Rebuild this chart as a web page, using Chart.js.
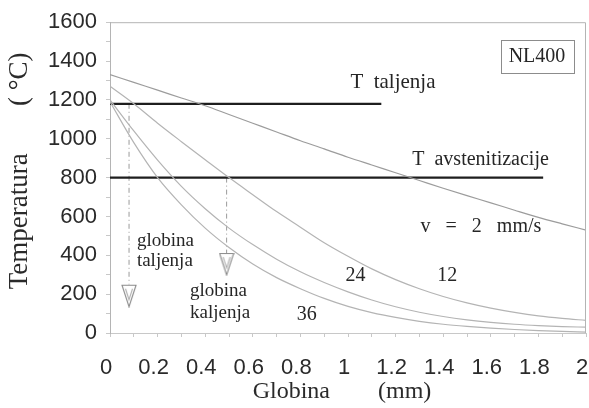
<!DOCTYPE html>
<html>
<head>
<meta charset="utf-8">
<script src="https://cdn.jsdelivr.net/npm/chart.js@4/dist/chart.umd.min.js"></script>
<style>
  html, body { margin: 0; padding: 0; background: #fff; }
  #wrap { width: 589px; height: 408px; position: relative; }
</style>
</head>
<body>
<div id="wrap"><canvas id="tempChart"></canvas></div>
<script>
// depth below surface (mm)
const depth = [0, 0.1, 0.2, 0.3, 0.4, 0.5, 0.6, 0.7, 0.8, 0.9, 1.0,
               1.1, 1.2, 1.3, 1.4, 1.5, 1.6, 1.7, 1.8, 1.9, 2.0];

// peak temperature (°C) for each scanning speed (mm/s)
const tempV2  = [1330, 1290, 1250, 1210, 1170, 1125, 1080, 1035, 990, 948, 905,
                 865, 825, 785, 745, 707, 670, 632, 595, 562, 530];
const tempV12 = [1270, 1180, 1080, 985, 892, 800, 712, 625, 545, 465, 395,
                 330, 275, 228, 188, 155, 128, 106, 88, 75, 65];
const tempV24 = [1200, 1040, 890, 755, 640, 540, 455, 380, 315, 260, 212,
                 170, 135, 107, 85, 68, 55, 45, 38, 33, 30];
const tempV36 = [1190, 980, 800, 660, 540, 440, 355, 285, 228, 178, 137,
                 105, 80, 60, 45, 34, 25, 18, 12, 8, 5];

// reference temperatures: melting, austenitizing
const refTemps = [1180, 800];
const refEnds = [1.14, 1.82];

// depth markers: melting depth, hardening depth
const markDepth = [0.08, 0.49];
const markFrom = [1180, 800];
const markTo = [250, 410];
const markTip = [192, 355];

const serif = '"Liberation Serif", "DejaVu Serif", serif';
const sans = '"Liberation Sans", Arial, sans-serif';

/**
 * Builds the tall open "down" triangle used at the end of the depth markers.
 */
function makeTriangle() {
    const c = document.createElement('canvas');
    c.width = 16;
    c.height = 24;
    const g = c.getContext('2d');
    g.strokeStyle = '#8a8a8a';
    g.lineWidth = 1.1;
    g.beginPath();
    g.moveTo(1, 1.5);
    g.lineTo(15, 1.5);
    g.lineTo(8, 23);
    g.closePath();
    g.stroke();
    g.strokeStyle = '#b0b0b0';
    g.beginPath();
    g.moveTo(4.5, 5);
    g.lineTo(8, 16);
    g.lineTo(11.5, 5);
    g.stroke();
    return c;
}
const triangle = makeTriangle();

function toPoints(ys) {
    return depth.map((x, i) => ({ x: x, y: ys[i] }));
}

function curve(ys, color) {
    return {
        data: toPoints(ys),
        borderColor: color,
        borderWidth: 1.2,
        pointRadius: 0,
        cubicInterpolationMode: 'monotone',
        fill: false
    };
}

function refLine(i) {
    return {
        data: [{ x: 0, y: refTemps[i] }, { x: refEnds[i], y: refTemps[i] }],
        borderColor: '#1e1e1e',
        borderWidth: 2.2,
        pointRadius: 0,
        fill: false
    };
}

function marker(i) {
    return {
        data: [
            { x: markDepth[i], y: markFrom[i] },
            { x: markDepth[i], y: markTo[i] },
            { x: markDepth[i], y: markTip[i] }
        ],
        borderColor: '#9a9a9a',
        borderWidth: 1,
        borderDash: [5, 3, 1, 3],
        segment: { borderColor: ctx => ctx.p1DataIndex === 2 ? 'rgba(0,0,0,0)' : '#9a9a9a' },
        pointRadius: [0, 0, 10],
        pointStyle: [false, false, triangle],
        fill: false
    };
}

// text annotations, placed in data coordinates
const notes = [
    { text: 'T  taljenja', x: 1.01, y: 1260, size: 21 },
    { text: 'T  avstenitizacije', x: 1.27, y: 864, size: 20 },
    { text: 'v   =   2   mm/s', x: 1.305, y: 520, size: 20 },
    { text: 'globina', x: 0.113, y: 448, size: 19 },
    { text: 'taljenja', x: 0.113, y: 345, size: 19 },
    { text: 'globina', x: 0.336, y: 190, size: 19 },
    { text: 'kaljenja', x: 0.336, y: 77, size: 19 },
    { text: '24', x: 0.99, y: 268, size: 20 },
    { text: '12', x: 1.375, y: 268, size: 20 },
    { text: '36', x: 0.785, y: 67, size: 20 }
];

const annotatePlugin = {
    id: 'annotate',
    afterDatasetsDraw(chart) {
        const { ctx, chartArea, scales } = chart;
        ctx.save();
        // frame on top and right
        ctx.strokeStyle = '#b4b4b4';
        ctx.lineWidth = 1;
        ctx.beginPath();
        ctx.moveTo(chartArea.left, chartArea.top + 0.5);
        ctx.lineTo(chartArea.right - 0.5, chartArea.top + 0.5);
        ctx.lineTo(chartArea.right - 0.5, chartArea.bottom);
        ctx.stroke();

        ctx.fillStyle = '#262626';
        ctx.textAlign = 'left';
        ctx.textBaseline = 'alphabetic';
        notes.forEach(n => {
            ctx.font = n.size + 'px ' + serif;
            ctx.fillText(n.text, scales.x.getPixelForValue(n.x), scales.y.getPixelForValue(n.y));
        });

        // NL400 box
        ctx.font = '20px ' + serif;
        const cx = scales.x.getPixelForValue(1.794);
        const cy = scales.y.getPixelForValue(1425);
        const w = ctx.measureText('NL400').width;
        ctx.textAlign = 'center';
        ctx.textBaseline = 'middle';
        ctx.fillText('NL400', cx, cy + 1);
        ctx.strokeStyle = '#8c8c8c';
        ctx.strokeRect(Math.round(cx - w / 2 - 8) + 0.5, Math.round(cy - 16) + 0.5, Math.round(w + 16), 33);
        ctx.restore();
    }
};

new Chart(document.getElementById('tempChart'), {
    type: 'line',
    data: {
        datasets: [
            curve(tempV2, '#9c9c9c'),
            curve(tempV12, '#b4b4b4'),
            curve(tempV24, '#b4b4b4'),
            curve(tempV36, '#b4b4b4'),
            refLine(0),
            refLine(1),
            marker(0),
            marker(1)
        ]
    },
    options: {
        responsive: true,
        maintainAspectRatio: false,
        animation: false,
        layout: { autoPadding: false, padding: { left: 0, right: 3, top: 22, bottom: 0 } },
        plugins: {
            legend: { display: false },
            tooltip: { enabled: false }
        },
        scales: {
            x: {
                type: 'linear',
                min: 0,
                max: 2,
                // keep the plot reaching the right edge, the last label may overhang
                afterFit: s => { s.height = 75; s.paddingLeft = 0; s.paddingRight = 0; },
                border: { display: true, color: '#c8c8c8' },
                grid: { display: true, drawOnChartArea: false, tickLength: 4, color: '#c8c8c8' },
                ticks: {
                    stepSize: 0.1,
                    autoSkip: false,
                    maxRotation: 0,
                    padding: 18,
                    labelOffset: -4,
                    color: '#2a2a2a',
                    font: { family: sans, size: 22 },
                    callback: v => (Math.round(v * 10) % 2 === 0 ? String(Math.round(v * 10) / 10) : '')
                },
                title: {
                    display: true,
                    text: 'Globina        (mm)  ',
                    color: '#2a2a2a',
                    font: { family: serif, size: 24 },
                    padding: { top: 0, bottom: 2 }
                }
            },
            y: {
                min: 0,
                max: 1600,
                afterFit: s => { s.width = 110; },
                border: { display: true, color: '#b4b4b4' },
                grid: { display: true, drawOnChartArea: false, tickLength: 4, color: '#c8c8c8' },
                ticks: {
                    stepSize: 100,
                    autoSkip: false,
                    padding: 9,
                    color: '#2a2a2a',
                    font: { family: sans, size: 22 },
                    callback: v => (v % 200 === 0 ? v : '')
                },
                title: {
                    display: true,
                    text: '  Temperatura       ( °C)',
                    color: '#2a2a2a',
                    font: { family: serif, size: 27 },
                    padding: { top: 4, bottom: 0 }
                }
            }
        }
    },
    plugins: [annotatePlugin]
});
</script>
</body>
</html>
